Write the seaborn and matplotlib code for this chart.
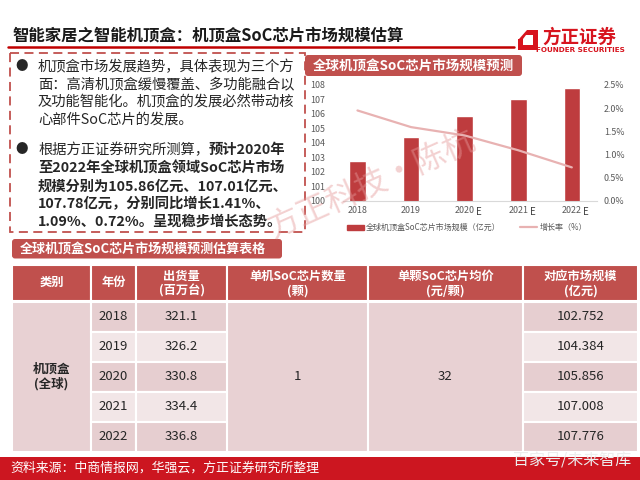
import numpy as np
import seaborn as sns
import matplotlib.pyplot as plt
import matplotlib.transforms as mtransforms
from matplotlib.patches import Rectangle, FancyBboxPatch, Polygon, Patch
from matplotlib.lines import Line2D

sns.set_style("white")
plt.rcParams["font.family"] = ["Noto Sans CJK SC", "DejaVu Sans"]
plt.rcParams["axes.unicode_minus"] = False

# ===================== DATA =====================
years = ["2018", "2019", "2020", "2021", "2022"]
estimated = [False, False, True, True, True]
market_size = [102.752, 104.384, 105.856, 107.008, 107.776]   # 亿元
growth_pct = [1.95, 1.59, 1.41, 1.09, 0.72]                    # %
shipments = [321.1, 326.2, 330.8, 334.4, 336.8]                # 百万台
chips_per_box = 1
chip_price = 32

title = "智能家居之智能机顶盒：机顶盒SoC芯片市场规模估算"
chart_title = "全球机顶盒SoC芯片市场规模预测"
table_title = "全球机顶盒SoC芯片市场规模预测估算表格"
bar_label = "全球机顶盒SoC芯片市场规模（亿元）"
line_label = "增长率（%）"
headers = [["类别"], ["年份"], ["出货量", "(百万台)"], ["单机SoC芯片数量", "(颗)"],
           ["单颗SoC芯片均价", "(元/颗)"], ["对应市场规模", "(亿元)"]]
category = "机顶盒\n(全球)"
para1 = ["机顶盒市场发展趋势，具体表现为三个方",
         "面：高清机顶盒缓慢覆盖、多功能融合以",
         "及功能智能化。机顶盒的发展必然带动核",
         "心部件SoC芯片的发展。"]
para2_head = ["根据方正证券研究所测算，", "预计2020年"]
para2 = ["至2022年全球机顶盒领域SoC芯片市场",
         "规模分别为105.86亿元、107.01亿元、",
         "107.78亿元，分别同比增长1.41%、",
         "1.09%、0.72%。呈现稳步增长态势。"]
source = "资料来源：中商情报网，华强云，方正证券研究所整理"

# ===================== COLOURS =====================
RED = "#C0504D"
BAR = "#BE3C3E"
LINE = "#E8B2B2"
ROW_DARK = "#E6CED0"
ROW_LIGHT = "#F2E6E7"
MERGED = "#E8D1D3"
FOOT = "#CC1620"
TXT = "#262626"
GREY = "#595959"

W, H = 640, 480
fig = plt.figure(figsize=(6.4, 4.8), dpi=100)

# background canvas in pixel coords
bg = fig.add_axes([0, 0, 1, 1])
bg.set_xlim(0, W)
bg.set_ylim(H, 0)
bg.axis("off")

# ===================== HEADER =====================
bg.text(12, 36, title, fontsize=11.8, weight="bold", va="center", color="#1a1a1a")
bg.plot([8, 514], [47, 47], color="#C00000", lw=1.8)

# logo
bg.add_patch(Polygon([(524, 30), (538, 30), (538, 50), (518, 50), (518, 36)],
                     closed=True, fc="#D7141E", ec="none"))
bg.add_patch(Polygon([(526, 35), (533, 35), (533, 45), (523, 45), (523, 39)],
                     closed=True, fc="white", ec="none"))
bg.add_patch(Polygon([(518, 30), (527, 30), (519, 39), (518, 39)],
                     closed=True, fc="white", ec="none"))
bg.text(542, 37, "方正证券", fontsize=13.3, weight="bold", color="#D7141E", va="center")
bg.text(580, 50.5, "FOUNDER SECURITIES", fontsize=5.2, weight="bold",
        color="#D7141E", va="center", ha="center", family="DejaVu Sans")

# ===================== LEFT TEXT BOX =====================
bg.add_patch(Rectangle((10, 53), 295, 179, fill=False, ec=RED, lw=1.3,
                       linestyle=(0, (5, 3))))
for y in (66.7, 150):
    bg.text(22, y, "●", fontsize=9, va="center", ha="center", color=TXT)
for i, line in enumerate(para1):
    bg.text(38, 66.7 + i * 17.6, line, fontsize=10.3, va="center", color=TXT)
t1 = bg.text(38, 150, para2_head[0], fontsize=10.3, va="center", color=TXT)
bg.annotate(para2_head[1], xy=(1, 0.5), xycoords=t1, va="center", ha="left",
            fontsize=10.3, weight="bold", color=TXT)
for i, line in enumerate(para2):
    bg.text(38, 168.3 + i * 17.9, line, fontsize=10.3, weight="bold",
            va="center", color=TXT)

# ===================== CHART =====================
bg.add_patch(FancyBboxPatch((305, 55), 217, 21, boxstyle="round,pad=0,rounding_size=3",
                            fc=RED, ec="none"))
bg.text(313, 65.5, chart_title, fontsize=9.7, weight="bold", color="white", va="center")

ax = fig.add_axes([343 / W, 1 - 200.7 / H, 254 / W, 115.7 / H])
ax.patch.set_alpha(0)
sns.barplot(x=years, y=market_size, color=BAR, saturation=1, width=0.31, ax=ax)
ax.set_ylim(100, 108)
ax.set_xlim(-0.27, 4.47)
ax.set_yticks(range(100, 109))
ax.set_xlabel("")
ax.set_ylabel("")
for s in ["top", "left", "right"]:
    ax.spines[s].set_visible(False)
ax.spines["bottom"].set_color("#D9D9D9")
ax.tick_params(axis="both", length=0, labelsize=6.4, colors=GREY)
ax.tick_params(axis="y", pad=13)
ax.tick_params(axis="x", pad=4)

blend = mtransforms.blended_transform_factory(ax.transData, ax.transAxes)
for i, e in enumerate(estimated):
    if e:
        ax.text(i + 0.27, -0.1, "E", transform=blend, fontsize=7, color="#404040",
                ha="center", va="center")

ax2 = ax.twinx()
ax2.patch.set_alpha(0)
sns.lineplot(x=np.arange(len(years)), y=growth_pct, color=LINE, lw=1.6, ax=ax2)
ax2.set_ylim(0, 2.5)
ax2.set_yticks(np.arange(0, 2.51, 0.5))
ax2.set_yticklabels([f"{v:.1f}%" for v in np.arange(0, 2.51, 0.5)])
for s in ax2.spines.values():
    s.set_visible(False)
ax2.tick_params(axis="y", length=0, labelsize=6.4, colors=GREY, pad=5)
ax2.set_ylabel("")

fig.legend(handles=[Patch(color=BAR), Line2D([0], [0], color=LINE, lw=1.6)],
           labels=[bar_label, line_label], loc="center",
           bbox_to_anchor=(467 / W, 1 - 227.7 / H), ncol=2, frameon=False,
           fontsize=5.8, labelcolor=GREY, handlelength=2.1, handleheight=0.7,
           handletextpad=0.3, columnspacing=2.4)

# ===================== TABLE =====================
bg.add_patch(FancyBboxPatch((12, 239), 270, 19.5, boxstyle="round,pad=0,rounding_size=3",
                            fc=RED, ec="none"))
bg.text(20, 248.8, table_title, fontsize=9.4, weight="bold", color="white", va="center")

cols = [12, 91, 136, 227, 368, 523, 638]
head_top, head_bot = 265, 300.5
rows = np.linspace(301.5, 452, len(years) + 1)

for j, hd in enumerate(headers):
    x0, x1 = cols[j], cols[j + 1]
    bg.add_patch(Rectangle((x0, head_top), x1 - x0, head_bot - head_top,
                           fc=RED, ec="white", lw=1.5))
    if len(hd) == 1:
        bg.text((x0 + x1) / 2, (head_top + head_bot) / 2, hd[0], fontsize=8.8,
                weight="bold", color="white", ha="center", va="center")
    else:
        bg.text((x0 + x1) / 2, 276, hd[0], fontsize=8.8, weight="bold",
                color="white", ha="center", va="center")
        bg.text((x0 + x1) / 2, 291, hd[1], fontsize=8.8, weight="bold",
                color="white", ha="center", va="center")

mid_y = (rows[0] + rows[-1]) / 2
for j in (0, 3, 4):
    bg.add_patch(Rectangle((cols[j], rows[0]), cols[j + 1] - cols[j], rows[-1] - rows[0],
                           fc=MERGED, ec="white", lw=1.5))
bg.text((cols[0] + cols[1]) / 2, mid_y, category, fontsize=9, weight="bold",
        color=TXT, ha="center", va="center", linespacing=1.1)
bg.text((cols[3] + cols[4]) / 2, mid_y, str(chips_per_box), fontsize=9.5,
        color=TXT, ha="center", va="center")
bg.text((cols[4] + cols[5]) / 2, mid_y, str(chip_price), fontsize=9.5,
        color=TXT, ha="center", va="center")

for i, yr in enumerate(years):
    fc = ROW_DARK if i % 2 == 0 else ROW_LIGHT
    vals = {1: yr, 2: f"{shipments[i]:.1f}", 5: f"{market_size[i]:.3f}"}
    for j, v in vals.items():
        bg.add_patch(Rectangle((cols[j], rows[i]), cols[j + 1] - cols[j], rows[i + 1] - rows[i],
                               fc=fc, ec="white", lw=1.5))
        bg.text((cols[j] + cols[j + 1]) / 2, (rows[i] + rows[i + 1]) / 2, v,
                fontsize=9.5, color=TXT, ha="center", va="center")

# ===================== FOOTER =====================
bg.add_patch(Rectangle((0, 456.5), W, H - 456.5, fc=FOOT, ec="none"))
bg.text(10, 468.5, source, fontsize=9.3, color="white", va="center")
bg.text(572, 461, "百家号/未来智库", fontsize=11.5, color="#EDEDED", va="center", ha="center")

# watermark over the chart
fig.text(372 / W, 1 - 184 / H, "方正科技·陈杭", fontsize=23, rotation=24,
         color="#E59A9A", alpha=0.45, ha="center", va="center")

fig.savefig("out.png", dpi=100)
